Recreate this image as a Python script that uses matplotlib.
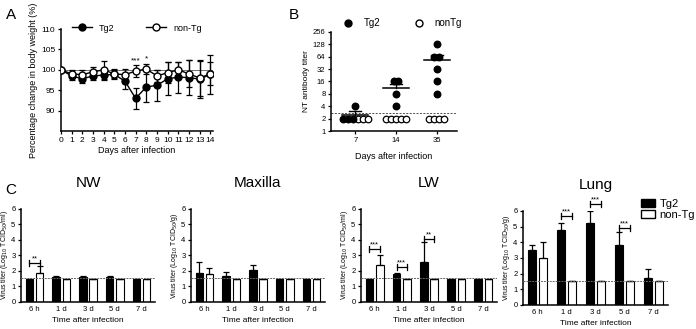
import numpy as np
import matplotlib
matplotlib.use("Agg")
import matplotlib.pyplot as plt
from matplotlib.patches import Patch
from matplotlib.lines import Line2D

plt.rcParams['font.family'] = ['Liberation Sans', 'DejaVu Sans']
plt.rcParams['axes.linewidth'] = 1.1

# ---- panel A: body weight ----
days = np.arange(15)
tg2_wt = [100, 98.5, 97.8, 98.5, 98.7, 98.9, 97.2, 93.0, 95.8, 96.2, 97.8, 98.2, 98.1, 97.7, 98.9]
tg2_wt_err = [0, 1.0, 1.0, 1.0, 1.2, 1.0, 1.8, 2.5, 3.8, 3.8, 4.0, 3.8, 4.2, 4.5, 4.8]
ntg_wt = [100, 99.0, 98.8, 99.5, 100.0, 99.0, 98.8, 99.7, 100.2, 98.5, 99.3, 100.0, 99.0, 98.0, 99.0]
ntg_wt_err = [0, 1.0, 1.2, 1.2, 2.2, 1.2, 1.5, 1.4, 1.3, 1.5, 2.5, 1.8, 3.3, 4.5, 2.8]
wt_stars = {7: '***', 8: '*'}

# ---- panel B: NT antibody titer ----
nt_days = ['7', '14', '35']
tg2_nt = [[4, 2, 2, 2], [16, 16, 8, 4], [128, 64, 64, 32, 16, 8]]
ntg_nt = [[2, 2, 2], [2, 2, 2, 2, 2], [2, 2, 2, 2]]
nt_limit = 2.8

# ---- panel C: virus titers ----
times = ['6 h', '1 d', '3 d', '5 d', '7 d']
titer_limit = 1.55
tissues = ['NW', 'Maxilla', 'LW', 'Lung']
units = ['ml', 'g', 'ml', 'g']
tg2_titer = {
    'NW': [1.5, 1.6, 1.6, 1.6, 1.5],
    'Maxilla': [1.85, 1.65, 2.05, 1.5, 1.5],
    'LW': [1.5, 1.8, 2.55, 1.5, 1.5],
    'Lung': [3.5, 4.8, 5.25, 3.8, 1.75],
}
tg2_titer_err = {
    'NW': [0, 0.1, 0.1, 0.1, 0],
    'Maxilla': [0.7, 0.3, 0.35, 0, 0],
    'LW': [0, 0.1, 1.3, 0, 0],
    'Lung': [0.3, 0.45, 0.75, 0.85, 0.55],
}
ntg_titer = {
    'NW': [1.9, 1.5, 1.5, 1.5, 1.5],
    'Maxilla': [1.8, 1.5, 1.5, 1.5, 1.5],
    'LW': [2.4, 1.5, 1.5, 1.5, 1.5],
    'Lung': [3.0, 1.5, 1.5, 1.5, 1.5],
}
ntg_titer_err = {
    'NW': [0.4, 0, 0, 0, 0],
    'Maxilla': [0.4, 0, 0, 0, 0],
    'LW': [0.6, 0, 0, 0, 0],
    'Lung': [1.05, 0, 0, 0, 0],
}
# (time index, bracket height, stars)
titer_sig = {
    'NW': [(0, 2.5, '**')],
    'Maxilla': [],
    'LW': [(0, 3.4, '***'), (1, 2.25, '***'), (2, 4.05, '**')],
    'Lung': [(1, 5.7, '***'), (2, 6.45, '***'), (3, 4.9, '***')],
}

fig = plt.figure(figsize=(6.96, 3.29), dpi=100)

tick_fs = 6
lab_fs = 6.5

# ================= A =================
axA = fig.add_axes([0.0876, 0.6018, 0.2184, 0.31])
axA.axhline(100, color='0.35', lw=0.6, zorder=0)
axA.errorbar(days, tg2_wt, yerr=tg2_wt_err, color='black', marker='o', ms=5,
             mfc='black', capsize=2.5, lw=1.0, elinewidth=0.9, capthick=0.9, zorder=3)
axA.errorbar(days, ntg_wt, yerr=ntg_wt_err, color='black', marker='o', ms=5,
             mfc='white', capsize=2.5, lw=1.0, elinewidth=0.9, capthick=0.9, zorder=4)
for d, s in wt_stars.items():
    top = max(ntg_wt[d] + ntg_wt_err[d], tg2_wt[d])
    axA.text(d, top + 0.3, s, ha='center', va='bottom', fontsize=6)
axA.set_xlim(0, 14.25)
axA.set_ylim(85, 110)
axA.set_yticks([90, 95, 100, 105, 110])
axA.set_xticks(days)
axA.spines[['top', 'right']].set_visible(False)
axA.tick_params(labelsize=tick_fs, length=2.5, width=0.9, pad=1.5)
axA.set_xlabel('Days after infection', fontsize=lab_fs, labelpad=2)
axA.set_ylabel('Percentage change in body weight (%)', fontsize=lab_fs, labelpad=2)
hA = [Line2D([], [], color='black', marker='o', ms=5, mfc='black', lw=1.0),
      Line2D([], [], color='black', marker='o', ms=5, mfc='white', lw=1.0)]
axA.legend(hA, ['Tg2', 'non-Tg'], loc='lower center', bbox_to_anchor=(0.5, 0.93),
           ncol=2, frameon=False, fontsize=6.5, handlelength=2.2, columnspacing=3.5,
           borderaxespad=0)

# ================= B =================
axB = fig.add_axes([0.4756, 0.6018, 0.181, 0.301])


def spread(vals, step=0.12):
    vals = np.asarray(vals, dtype=float)
    offs = np.zeros(len(vals))
    for v in np.unique(vals):
        idx = np.where(vals == v)[0]
        offs[idx] = (np.arange(len(idx)) - (len(idx) - 1) / 2) * step
    return offs


for i in range(len(nt_days)):
    t = np.asarray(tg2_nt[i], dtype=float)
    n = np.asarray(ntg_nt[i], dtype=float)
    allv = np.concatenate([t, n])
    off = spread(allv)
    ot, on = off[:len(t)], off[len(t):]
    axB.scatter(i + on, n, s=22, facecolor='white', edgecolor='black', lw=0.9, zorder=3)
    axB.scatter(i + ot, t, s=22, color='black', zorder=4)
    m = t.mean()
    se = t.std(ddof=1) / np.sqrt(len(t))
    axB.plot([i - 0.32, i + 0.32], [m, m], color='black', lw=1.1, zorder=5)
    axB.plot([i, i], [m, m + se], color='black', lw=1.0, zorder=5)
    axB.plot([i - 0.15, i + 0.15], [m + se, m + se], color='black', lw=1.0, zorder=5)
axB.axhline(nt_limit, color='0.3', lw=0.7, ls=(0, (2, 1.5)), zorder=1)
axB.set_yscale('log', base=2)
axB.set_ylim(1, 256)
yt = [1, 2, 4, 8, 16, 32, 64, 128, 256]
axB.set_yticks(yt)
axB.set_yticklabels([str(v) for v in yt])
axB.minorticks_off()
axB.set_xlim(-0.6, 2.5)
axB.set_xticks(range(len(nt_days)))
axB.set_xticklabels(nt_days)
axB.spines[['top', 'right']].set_visible(False)
axB.tick_params(labelsize=tick_fs - 0.5, length=2.5, width=0.9, pad=1.5)
axB.set_xlabel('Days after infection', fontsize=lab_fs, labelpad=6)
axB.set_ylabel('NT antibody titer', fontsize=6, labelpad=2)
hB = [Line2D([], [], ls='none', marker='o', ms=5, mfc='black', mec='black'),
      Line2D([], [], ls='none', marker='o', ms=5, mfc='white', mec='black')]
axB.legend(hB, ['Tg2', 'nonTg'], loc='lower center', bbox_to_anchor=(0.55, 1.0),
           ncol=2, frameon=False, fontsize=7, handletextpad=0.6, columnspacing=3.0,
           borderaxespad=0)

# ================= C =================
c_pos = [[0.0302, 0.0821, 0.1925, 0.2827],
         [0.2744, 0.0821, 0.1925, 0.2827],
         [0.5187, 0.0821, 0.1954, 0.2827],
         [0.7514, 0.0730, 0.2083, 0.2857]]
x = np.arange(len(times))
bw = 0.28
dx = 0.19
for k, tis in enumerate(tissues):
    ax = fig.add_axes(c_pos[k])
    ax.bar(x - dx, tg2_titer[tis], bw, color='black', edgecolor='black', lw=0.8, zorder=2)
    ax.bar(x + dx, ntg_titer[tis], bw, color='white', edgecolor='black', lw=0.8, zorder=2)
    e1 = np.asarray(tg2_titer_err[tis])
    e2 = np.asarray(ntg_titer_err[tis])
    ax.errorbar(x - dx, tg2_titer[tis], yerr=[np.zeros_like(e1), e1], fmt='none',
                ecolor='black', elinewidth=0.9, capsize=2, capthick=0.9, zorder=3)
    ax.errorbar(x + dx, ntg_titer[tis], yerr=[np.zeros_like(e2), e2], fmt='none',
                ecolor='black', elinewidth=0.9, capsize=2, capthick=0.9, zorder=3)
    ax.axhline(titer_limit, color='0.4', lw=0.7, ls=(0, (2, 1)), zorder=4)
    for ti, h, s in titer_sig[tis]:
        xl, xr = ti - dx, ti + dx
        ax.plot([xl, xr], [h, h], color='black', lw=0.9, clip_on=False)
        ax.plot([xl, xl], [h - 0.18, h + 0.18], color='black', lw=0.9, clip_on=False)
        ax.plot([xr, xr], [h - 0.18, h + 0.18], color='black', lw=0.9, clip_on=False)
        ax.text(ti, h + 0.05, s, ha='center', va='bottom', fontsize=5.5, clip_on=False)
    ax.set_xlim(-0.5, 4.5)
    ax.set_ylim(0, 6)
    ax.set_yticks(range(7))
    ax.set_xticks(x)
    ax.set_xticklabels(times)
    ax.spines[['top', 'right']].set_visible(False)
    ax.tick_params(labelsize=5.5, length=2.5, width=0.9, pad=1.5)
    ax.tick_params(axis='x', length=0, pad=3)
    ax.set_xlabel('Time after infection', fontsize=6, labelpad=3)
    ax.set_ylabel('Virus titer (Log$_{10}$ TCID$_{50}$/' + units[k] + ')',
                  fontsize=5.0, labelpad=1)
    ax.set_title(tis, fontsize=11, pad=16)

fig.legend([Patch(facecolor='black', edgecolor='black'),
            Patch(facecolor='white', edgecolor='black')],
           ['Tg2', 'non-Tg'], loc='upper left', bbox_to_anchor=(0.914, 0.41),
           frameon=False, fontsize=8, handlelength=1.3, handleheight=0.8,
           labelspacing=0.1, handletextpad=0.4, borderaxespad=0)

fig.text(0.008, 0.975, 'A', fontsize=11, va='top')
fig.text(0.415, 0.975, 'B', fontsize=11, va='top')
fig.text(0.008, 0.445, 'C', fontsize=11, va='top')

fig.savefig('out.png', dpi=100)
